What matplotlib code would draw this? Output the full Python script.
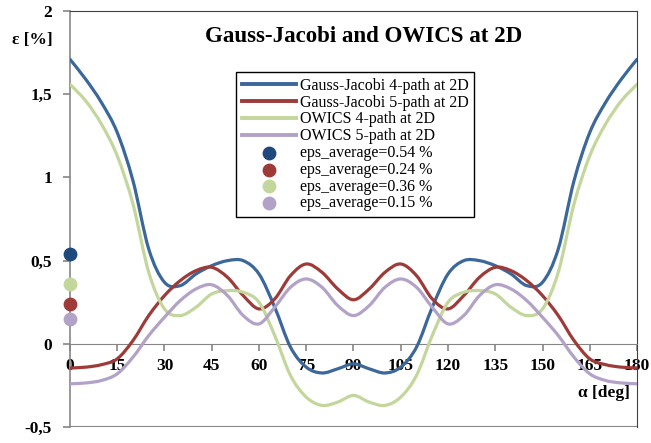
import numpy as np
import matplotlib
matplotlib.use("Agg")
import matplotlib.pyplot as plt
from matplotlib.path import Path
from matplotlib.patches import PathPatch
from matplotlib.lines import Line2D

plt.rcParams['font.family'] = ['Liberation Serif', 'DejaVu Serif']

# angle [deg]
alpha = [0, 5, 10, 15, 20, 25, 30, 35, 40, 45, 50, 55, 60, 65, 70, 75, 80, 85, 90,
         95, 100, 105, 110, 115, 120, 125, 130, 135, 140, 145, 150, 155, 160, 165,
         170, 175, 180]

gj4 = [1.71, 1.59, 1.45, 1.27, 0.98, 0.57, 0.37, 0.35, 0.42, 0.47, 0.50, 0.50, 0.42,
       0.22, -0.02, -0.14, -0.175, -0.15, -0.12, -0.15, -0.175, -0.14, -0.02, 0.22,
       0.42, 0.50, 0.50, 0.47, 0.42, 0.35, 0.37, 0.57, 0.98, 1.27, 1.45, 1.59, 1.71]
gj5 = [-0.145, -0.14, -0.125, -0.09, 0.02, 0.17, 0.29, 0.38, 0.44, 0.46, 0.40, 0.29,
       0.21, 0.27, 0.41, 0.48, 0.43, 0.33, 0.265, 0.33, 0.43, 0.48, 0.41, 0.27, 0.21,
       0.29, 0.40, 0.46, 0.44, 0.38, 0.29, 0.17, 0.02, -0.09, -0.125, -0.14, -0.145]
ow4 = [1.56, 1.46, 1.32, 1.13, 0.84, 0.43, 0.21, 0.17, 0.22, 0.30, 0.32, 0.31, 0.25,
       0.05, -0.19, -0.32, -0.37, -0.35, -0.31, -0.35, -0.37, -0.32, -0.19, 0.05, 0.25,
       0.31, 0.32, 0.30, 0.22, 0.17, 0.21, 0.43, 0.84, 1.13, 1.32, 1.46, 1.56]
ow5 = [-0.24, -0.235, -0.22, -0.18, -0.08, 0.05, 0.16, 0.26, 0.33, 0.355, 0.29, 0.17,
       0.12, 0.22, 0.34, 0.39, 0.34, 0.23, 0.17, 0.23, 0.34, 0.39, 0.34, 0.22, 0.12,
       0.17, 0.29, 0.355, 0.33, 0.26, 0.16, 0.05, -0.08, -0.18, -0.22, -0.235, -0.24]

eps_avg = [0.54, 0.24, 0.36, 0.15]

line_names = ["Gauss-Jacobi 4-path at 2D", "Gauss-Jacobi 5-path at 2D",
              "OWICS 4-path at 2D", "OWICS 5-path at 2D"]
line_colors = ["#3C679A", "#9E3B38", "#C3D69B", "#B3A2C7"]
dot_colors = ["#1F497D", "#9E3B38", "#C3D69B", "#B3A2C7"]


def smooth_path(x, y):
    # Excel-like smoothed line: Catmull-Rom segments as cubic Bezier curves
    p = np.column_stack([x, y]).astype(float)
    ext = np.vstack([p[0], p, p[-1]])
    verts = [p[0]]
    codes = [Path.MOVETO]
    for i in range(1, len(ext) - 2):
        p0, p1, p2, p3 = ext[i - 1], ext[i], ext[i + 1], ext[i + 2]
        verts += [p1 + (p2 - p0) / 6, p2 - (p3 - p1) / 6, p2]
        codes += [Path.CURVE4] * 3
    return Path(verts, codes)


fig = plt.figure(figsize=(6.51, 4.43), dpi=100)
ax = fig.add_axes([0.1075, 0.036, 0.871, 0.939])
ax.set_xlim(0, 180)
ax.set_ylim(-0.5, 2)

handles = []
for ys, c, name in zip([gj4, gj5, ow4, ow5], line_colors, line_names):
    ax.add_patch(PathPatch(smooth_path(alpha, ys), fill=False, edgecolor=c,
                           lw=2.3, capstyle='round', zorder=3))
    handles.append(Line2D([], [], color=c, lw=2.8, label=name))

for v, c in zip(eps_avg, dot_colors):
    h = ax.scatter([0], [v], s=80, color=c, zorder=4, clip_on=False,
                   label="eps_average=%.2f %%" % v)
    handles.append(h)

# axes styling
gray = "#868686"
ax.spines['bottom'].set_position(('data', 0))
ax.spines['bottom'].set_color(gray)
ax.spines['left'].set_color(gray)
ax.spines['left'].set_linewidth(1.2)
ax.spines['top'].set_color("#404040")
ax.spines['right'].set_color("#404040")
ax.axhline(-0.5, color=gray, lw=1.5, zorder=1)

ax.set_xticks(range(0, 181, 15))
ax.set_yticks([-0.5, 0, 0.5, 1, 1.5, 2])
ax.set_yticklabels(["-0,5", "0", "0,5", "1", "1,5", "2"])
ax.tick_params(axis='both', direction='out', length=5, color=gray, width=1.2,
               labelsize=12.5)
ax.tick_params(axis='x', pad=5)
ax.tick_params(axis='y', pad=8)
for lab in ax.get_xticklabels() + ax.get_yticklabels():
    lab.set_fontweight('bold')
    lab.set_zorder(5)

fig.text(0.049, 0.91, "ε [%]", fontsize=12.5, fontweight='bold', ha='center', va='center')
ax.text(0.988, 0.082, "α [deg]", transform=ax.transAxes, fontsize=12.5,
        fontweight='bold', ha='right', va='center')
ax.text(0.517, 0.925, "Gauss-Jacobi and OWICS at 2D", transform=ax.transAxes,
        fontsize=16.5, fontweight='bold', ha='center', va='baseline')

leg = ax.legend(handles=handles, loc='upper left', bbox_to_anchor=(0.293, 0.853),
                fontsize=11.5, handlelength=3.4, labelspacing=0.05, handletextpad=0.25,
                borderpad=0.35, fancybox=False, framealpha=1, edgecolor='black',
                borderaxespad=0)
leg.get_frame().set_linewidth(1.0)

fig.savefig("out.png", dpi=100)
